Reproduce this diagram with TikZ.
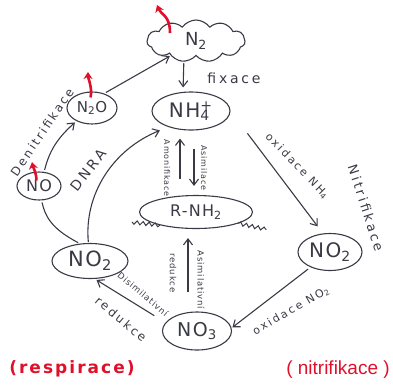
\documentclass[tikz,border=0pt]{standalone}
\usepackage{fontspec}
\setmainfont{Liberation Sans}
\newfontfamily\hand{DejaVu Sans}[LetterSpace=20]
\newfontfamily\handsm{DejaVu Sans}[LetterSpace=10]
\newfontfamily\handn{DejaVu Sans}[LetterSpace=8]
\newfontfamily\handb{DejaVu Sans Bold}[LetterSpace=12]
\usetikzlibrary{arrows.meta,shapes.geometric,shapes.symbols,decorations.pathmorphing}
\definecolor{ink}{HTML}{3A3A46}
\definecolor{redink}{HTML}{E0102A}
\begin{document}
\begin{tikzpicture}[x=1pt,y=-1pt,
  every node/.style={text=ink},
  oval/.style={draw=ink, line width=1.1pt, ellipse, inner sep=0pt, font=\handn\fontsize{19}{19}\selectfont},
  arr/.style={draw=ink, line width=1.1pt, -{Straight Barb[length=6pt,width=9pt]}},
  plainline/.style={draw=ink, line width=1.1pt},
  wig/.style={draw=ink, line width=1pt, decorate, decoration={snake, amplitude=1.8pt, segment length=6pt}},
  lab/.style={inner sep=0pt, font=\hand\fontsize{12}{12}\selectfont},
  smlab/.style={inner sep=0pt, font=\handsm\fontsize{8.5}{8.5}\selectfont},
  redarr/.style={draw=redink, line width=2.6pt, -{Stealth[length=7pt,width=9pt]}},
  redtext/.style={text=redink, inner sep=0pt},
]
\useasboundingbox (0,0) rectangle (393,389);

% nodes
\node[cloud, cloud puffs=11, cloud puff arc=110, aspect=2.3, draw=ink, line width=1.1pt,
      minimum width=98pt, minimum height=42pt, inner sep=0pt,
      font=\handn\fontsize{18}{18}\selectfont] (n2) at (196,41) {N\textsubscript{2}};
\node[oval, minimum width=78pt, minimum height=38pt, font=\handn\fontsize{20}{20}\selectfont] (nh4) at (191,111) {NH\rlap{\textsuperscript{+}}\textsubscript{4}\,};
\node[oval, minimum width=50pt, minimum height=32pt, font=\handn\fontsize{15}{15}\selectfont] (n2o) at (92,108) {N\textsubscript{2}O};
\node[oval, minimum width=44pt, minimum height=28pt, font=\handn\fontsize{16}{16}\selectfont] (no) at (39,186) {NO};
\node[oval, minimum width=76pt, minimum height=35pt, font=\handn\fontsize{21}{21}\selectfont] (no2l) at (90,261) {NO\textsubscript{2}};
\node[oval, minimum width=113pt, minimum height=33pt, font=\handn\fontsize{16}{16}\selectfont] (rnh2) at (196,212) {R-NH\textsubscript{2}};
\node[oval, minimum width=69pt, minimum height=38pt] (no3) at (197,331) {NO\textsubscript{3}};
\node[oval, minimum width=64pt, minimum height=37pt, font=\handn\fontsize{20}{20}\selectfont] (no2r) at (330,252) {NO\textsubscript{2}};

% free ends of the red arrows
\coordinate (n2up) at (157,5);
\coordinate (n2oup) at (88,72);
\coordinate (noup) at (32,162);

% wiggles on R-NH2
\draw[wig] (rnh2.200) -- ++(-28,-3);
\draw[wig] (rnh2.-15) -- ++(28,6);

% connectors
\draw[arr, shorten <=7pt, shorten >=4pt] ([xshift=-12pt]n2.south) -- ([xshift=-8pt]nh4.north);
\draw[arr, shorten <=2pt, shorten >=1pt] (n2o.50) -- (n2.210);
\draw[arr, shorten <=2pt, shorten >=2pt] (no.70) .. controls (50,148) and (60,136) .. (n2o.220);
\draw[plainline, shorten <=2pt, shorten >=2pt] (no2l.120) .. controls (50,228) and (45,215) .. (no.-80);
\draw[arr, shorten <=1pt, shorten >=9pt] (no2l.95) .. controls (84,195) and (112,150) .. (nh4.215);
\draw[arr, shorten <=16pt, shorten >=8pt] ([xshift=-16pt]rnh2.north) -- ([xshift=-11pt]nh4.south);
\draw[arr, shorten <=18pt, shorten >=9pt] ([xshift=3pt]nh4.south) -- ([xshift=-2pt]rnh2.north);
\draw[arr, shorten <=28pt] (nh4.east) -- ([yshift=8pt]no2r.125);
\draw[arr, shorten <=3pt, shorten >=1pt] (no2r.218) -- (no3.5);
\draw[arr, shorten <=13pt, shorten >=2pt] (no3.165) -- (no2l.-75);
\draw[arr, shorten <=19pt, shorten >=9pt] ([xshift=-9pt]no3.north) -- ([xshift=-8pt]rnh2.south);

% red arrows
\draw[redarr] ([shift={(-26pt,8pt)}]n2.center) .. controls +(0,-18) and +(4,10) .. (n2up);
\draw[redarr] ([yshift=-6pt]n2o.95) .. controls +(2,-10) and +(0,6) .. (n2oup);
\draw[redarr] ([yshift=-9pt]no.100) .. controls +(0,-8) and +(1,5) .. (noup);

% labels
\node[lab, font=\hand\fontsize{14}{14}\selectfont] (lfix) at (234,78) {fixace};
\node[lab, rotate=56] (lden) at (42,132) {Denitrifikace};
\node[lab, font=\hand\fontsize{14}{14}\selectfont, rotate=52] (ldnra) at (88,170) {DNRA};
\node[smlab, font=\handsm\fontsize{8}{8}\selectfont, rotate=-90] (lamon) at (167,168) {Amonifikace};
\node[smlab, font=\handsm\fontsize{8}{8}\selectfont, rotate=-90] (lasim) at (204,168) {Asimilace};
\node[lab, font=\hand\fontsize{11}{11}\selectfont, rotate=-46] (loxnh) at (297,166) {oxidace NH\textsubscript{4}};
\node[lab, font=\hand\fontsize{13}{13}\selectfont, rotate=-72] (lnitr) at (366,208) {Nitrifikace};
\node[lab, font=\hand\fontsize{11}{11}\selectfont, rotate=30] (loxno) at (291,311) {oxidace NO\textsubscript{2}};
\node[smlab, rotate=-40] (ldis) at (143,294) {Disimilativní};
\node[lab, rotate=-40] (lred1) at (121,319) {redukce};
\node[smlab, rotate=-90] (lasim2) at (201,280) {Asimilativní};
\node[smlab, rotate=-90] (lred2) at (173,273) {redukce};

% red captions
\node[redtext, font=\handb\fontsize{17}{17}\selectfont] (resp) at (72,369) {(respirace)};
\node[redtext, font=\fontsize{19}{19}\selectfont] (nitr) at (338,370) {( nitrifikace )};
\end{tikzpicture}
\end{document}
